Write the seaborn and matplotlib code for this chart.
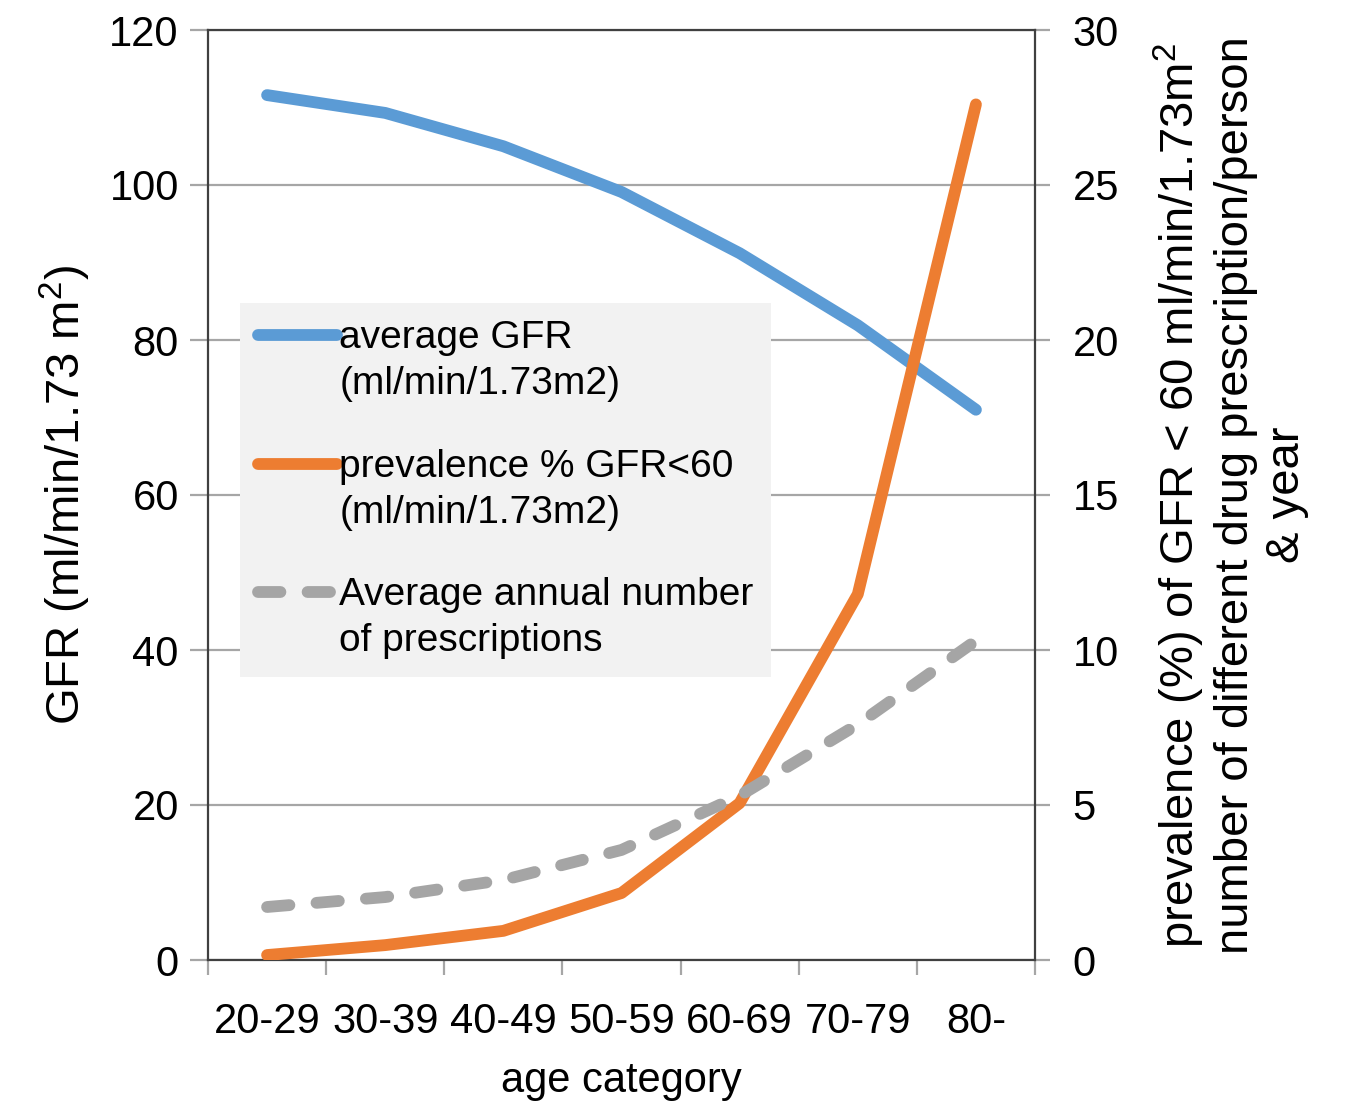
import pandas as pd
import matplotlib.pyplot as plt
import seaborn as sns
from matplotlib.ticker import FixedLocator

# data
ages = ["20-29", "30-39", "40-49", "50-59", "60-69", "70-79", "80-"]
gfr = [111.6, 109.3, 105.0, 99.1, 91.2, 81.9, 71.0]
prev = [0.16, 0.48, 0.94, 2.16, 5.06, 11.8, 27.6]
presc = [1.71, 2.03, 2.58, 3.55, 5.3, 7.6, 10.3]

df = pd.DataFrame({"age": ages, "gfr": gfr, "prev": prev, "presc": presc})

sns.set_style("white")
plt.rcParams["font.family"] = ["Liberation Sans", "DejaVu Sans"]
plt.rcParams["mathtext.fontset"] = "custom"
plt.rcParams["mathtext.rm"] = "Liberation Sans"
plt.rcParams["mathtext.it"] = "Liberation Sans"
for k in ("text.color", "axes.labelcolor", "xtick.labelcolor", "ytick.labelcolor"):
    plt.rcParams[k] = "black"

blue = "#5b9bd5"
orange = "#ed7d31"
grey = "#a5a5a5"
fs = 30     # horizontal text
fs_v = 34   # rotated axis labels

fig = plt.figure(figsize=(13.49, 11.05), dpi=100)
ax = fig.add_axes([208/1349, 1-960/1105, (1035-208)/1349, (960-30)/1105])
ax2 = ax.twinx()

sns.lineplot(data=df, x="age", y="gfr", ax=ax, color=blue, lw=8.5,
             solid_capstyle="round", label="average GFR\n(ml/min/1.73m2)", legend=False)
sns.lineplot(data=df, x="age", y="prev", ax=ax2, color=orange, lw=8.5,
             solid_capstyle="round", label="prevalence % GFR<60\n(ml/min/1.73m2)", legend=False)
sns.lineplot(data=df, x="age", y="presc", ax=ax2, color=grey, lw=8.5,
             dash_capstyle="round", label="Average annual number\nof prescriptions", legend=False)
ax2.lines[-1].set_dashes((1.9, 2.3))

ax.set_xlim(-0.5, 6.5)
ax.set_ylim(0, 120)
ax2.set_ylim(0, 30)
ax.set_yticks(range(0, 121, 20))
ax2.set_yticks(range(0, 31, 5))

ax.grid(axis="y", color="#a6a6a6", lw=1.6)
ax.grid(axis="x", visible=False)
ax.set_axisbelow(True)

for a in (ax, ax2):
    for s in a.spines.values():
        s.set_visible(False)
for a, side in ((ax, "left"), (ax, "bottom"), (ax2, "right"), (ax2, "top")):
    a.spines[side].set_visible(True)
    a.spines[side].set_color("#404040")
    a.spines[side].set_linewidth(1.6)

ax.tick_params(axis="y", direction="out", length=13, width=1.6, color="#a6a6a6",
               labelsize=fs, pad=8, left=True)
ax2.tick_params(axis="y", direction="out", length=11, width=1.6, color="#a6a6a6",
                labelsize=fs, pad=16, right=True)
ax.tick_params(axis="x", which="major", length=0, labelsize=fs, pad=30)
ax.xaxis.set_minor_locator(FixedLocator([i - 0.5 for i in range(8)]))
ax.tick_params(axis="x", which="minor", direction="out", length=11, width=1.6,
               color="#a6a6a6", bottom=True)
ax.yaxis.get_major_ticks()[-1].tick1line.set_color("#404040")

ax.set_xlabel("age category", fontsize=fs, labelpad=14)
ax.set_ylabel("GFR (ml/min/1.73 m$^2$)", fontsize=fs_v, labelpad=12)
ax2.set_ylabel("prevalence (%) of GFR < 60 ml/min/1.73m$^2$\n"
               "number of different drug prescription/person\n& year",
               fontsize=fs_v, labelpad=24, multialignment="center", linespacing=1.2)

h1, l1 = ax.get_legend_handles_labels()
h2, l2 = ax2.get_legend_handles_labels()
leg = ax2.legend(h1 + h2, l1 + l2, loc="upper left",
                 bbox_to_anchor=(240/1349, 1-303/1105), bbox_transform=fig.transFigure,
                 fontsize=28, frameon=True, fancybox=False, facecolor="#f2f2f2",
                 edgecolor="none", framealpha=1, borderaxespad=0, borderpad=0.45,
                 handlelength=2.05, handletextpad=0.05, labelspacing=1.2)
for t in leg.get_texts():
    t.set_linespacing(1.35)
leg.legend_handles[2].set_dashes((1.9, 2.3))
# put each handle next to the first line of its label
for h in leg.legend_handles:
    y = h.get_ydata()
    h.set_ydata([v + 19 for v in y])
leg.set_zorder(10)

fig.savefig("out.png", dpi=100)
